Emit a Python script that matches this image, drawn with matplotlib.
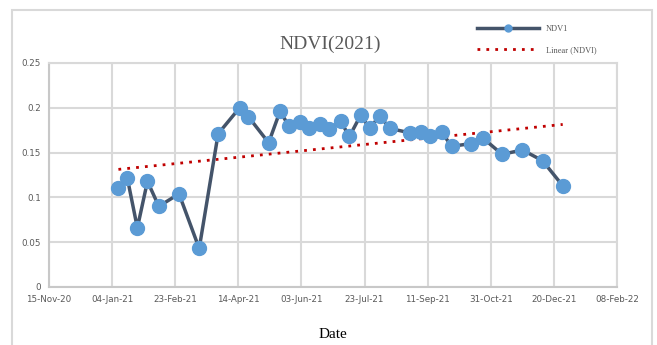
import numpy as np
import pandas as pd
import matplotlib
matplotlib.use('Agg')
import matplotlib.pyplot as plt
import matplotlib.dates as mdates
from matplotlib.patches import Rectangle

dates = ['2021-01-09', '2021-01-16', '2021-01-24', '2021-02-01', '2021-02-10',
         '2021-02-26', '2021-03-14', '2021-03-29', '2021-04-15', '2021-04-22',
         '2021-05-08', '2021-05-17', '2021-05-24', '2021-06-02', '2021-06-09',
         '2021-06-18', '2021-06-25', '2021-07-04', '2021-07-11', '2021-07-20',
         '2021-07-27', '2021-08-04', '2021-08-12', '2021-08-28', '2021-09-06',
         '2021-09-13', '2021-09-22', '2021-09-30', '2021-10-15', '2021-10-25',
         '2021-11-09', '2021-11-25', '2021-12-11', '2021-12-27']
ndvi = [0.110, 0.122, 0.066, 0.118, 0.090, 0.104, 0.043, 0.171, 0.200, 0.190,
        0.161, 0.196, 0.180, 0.184, 0.177, 0.182, 0.176, 0.185, 0.168, 0.192,
        0.177, 0.191, 0.177, 0.172, 0.173, 0.168, 0.173, 0.157, 0.160, 0.166,
        0.148, 0.153, 0.141, 0.113]
yticks = [0, 0.05, 0.1, 0.15, 0.2, 0.25]
ytick_labels = ['0', '0.05', '0.1', '0.15', '0.2', '0.25']

x = mdates.date2num(pd.to_datetime(dates))
y = np.array(ndvi)

# linear trendline like excel
k, b = np.polyfit(x, y, 1)
trend = k * x + b

fig = plt.figure(figsize=(6.57, 3.45), dpi=100)
fig.patches.append(Rectangle((12 / 657, -0.05), 640 / 657, 1.05 - 10 / 345,
                             transform=fig.transFigure, fill=False,
                             edgecolor='#d9d9d9', linewidth=1.5))
ax = fig.add_axes([49 / 657, 58 / 345, 568 / 657, 224 / 345])

grid_c = '#d9d9d9'
text_c = '#595959'

ax.plot(x, y, color='#44546A', linewidth=2.5, marker='o', markersize=10,
        markerfacecolor='#5B9BD5', markeredgecolor='#5B9BD5', label='NDV1', zorder=3)
ax.plot(x, trend, color='#C00000', linestyle=(0, (1, 2.2)), linewidth=2,
        label='Linear (NDVI)', zorder=2)

start = mdates.date2num(pd.Timestamp('2020-11-15'))
xt = start + np.arange(0, 451, 50)
ax.set_xlim(start, start + 450)
ax.set_xticks(xt)
ax.xaxis.set_major_formatter(mdates.DateFormatter('%d-%b-%y'))
ax.set_ylim(0, 0.25)
ax.set_yticks(yticks)
ax.set_yticklabels(ytick_labels)

ax.grid(True, color=grid_c, linewidth=1.5)
ax.set_axisbelow(True)
for s in ax.spines.values():
    s.set_color(grid_c)
    s.set_linewidth(1.5)
ax.spines['bottom'].set_color('#c8c8c8')
ax.spines['left'].set_color('#c8c8c8')
ax.tick_params(length=0, labelsize=6.3, labelcolor=text_c, pad=6)

ax.set_xlabel('Date', family='Liberation Serif', fontsize=11, color='black', labelpad=17)
fig.text(0.502, 0.872, 'NDVI(2021)', family='Liberation Serif', fontsize=14,
         color=text_c, ha='center', va='center')

leg = ax.legend(loc='upper left', bbox_to_anchor=(0.74, 1.205), frameon=False,
                prop={'family': 'Liberation Serif', 'size': 6}, labelcolor=text_c,
                handlelength=7.5, labelspacing=1.6, markerscale=0.5)

fig.savefig('out.png', dpi=100)
